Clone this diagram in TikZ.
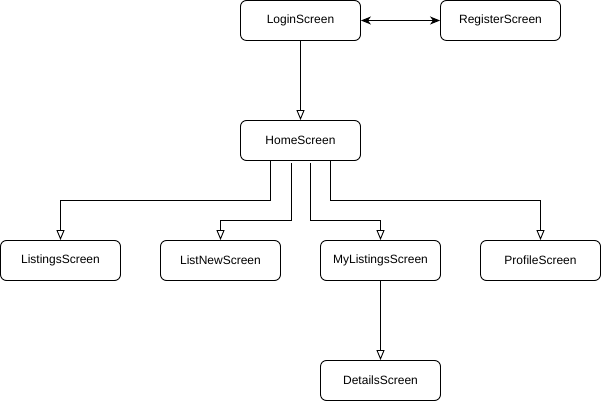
\documentclass[tikz,border=0pt]{standalone}
\usepackage{fontspec}
\setmainfont{Liberation Sans}
\usetikzlibrary{calc,positioning,shapes}
\usetikzlibrary{arrows.meta}
\tikzset{screen/.style = {draw, fill=white, rectangle, rounded corners=6pt,
                  line width=0.9pt, inner sep=0pt,
                  minimum height=40pt, minimum width=120pt, font=\fontsize{12pt}{14pt}\selectfont},
        link/.style = {line width=0.9pt, -{Triangle[open,width=8pt,length=10pt]}},
        both/.style = {line width=0.9pt, {Stealth[width=8pt,length=10pt,inset=3pt]}-{Stealth[width=8pt,length=10pt,inset=3pt]}}
    }

\begin{document}
\begin{tikzpicture}[x=1pt,y=1pt]
          \useasboundingbox (0,0) rectangle (601,401);

          % top rows
          \node[screen] (login) at (300.5,380.5) {LoginScreen};
          \node[screen] (register) at (500.5,380.5) {RegisterScreen};
          \node[screen] (home) at (300.5,260.5) {HomeScreen};

          % screens reached from home
          \node[screen] (listings) at (60.5,140.5) {ListingsScreen};
          \node[screen] (listnew) at (220.5,140.5) {ListNewScreen};
          \node[screen] (mylistings) at (380.5,140.5) {MyListingsScreen};
          \node[screen] (profile) at (540.5,140.5) {ProfileScreen};
          \node[screen] (details) at (380.5,20.5) {DetailsScreen};

          \draw[both] (login) -- (register);
          \draw[link] (login) -- (home);
          \draw[link] ([xshift=-30pt]home.south) -- ++(0,-40) -| (listings.north);
          \draw[link] ([xshift=-9pt,yshift=-2pt]home.south) -- ++(0,-58) -| (listnew.north);
          \draw[link] ([xshift=10pt,yshift=-2pt]home.south) -- ++(0,-58) -| (mylistings.north);
          \draw[link] ([xshift=30pt]home.south) -- ++(0,-40) -| (profile.north);
          \draw[link] (mylistings) -- (details);
        \end{tikzpicture}
\end{document}
